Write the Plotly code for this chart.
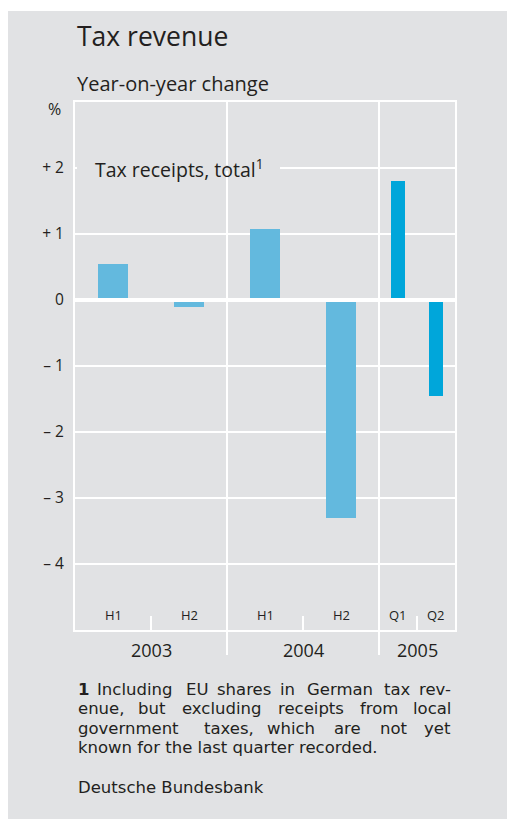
import plotly.graph_objects as go

# ---- data ----
periods = ["H1", "H2", "H1", "H2", "Q1", "Q2"]
period_quarters = [2, 2, 2, 2, 1, 1]
values = [0.55, -0.1, 1.08, -3.3, 1.8, -1.45]
years = ["2003", "2004", "2005"]
year_quarters = [4, 4, 2]
ytick_vals = [-4, -3, -2, -1, 0, 1, 2]
ytick_text = ["– 4", "– 3", "– 2", "– 1", "0", "+ 1", "+ 2"]

footnote_lines = [
    ["<b>1</b>", "Including", "EU", "shares", "in", "German", "tax", "rev-"],
    ["enue,", "but", "excluding", "receipts", "from", "local"],
    ["government", "taxes,", "which", "are", "not", "yet"],
    ["known for the last quarter recorded."],
]
source = "Deutsche Bundesbank"

# ---- derived positions ----
starts, acc = [], 0
for q in period_quarters:
    starts.append(acc)
    acc += q
centers = [s + q / 2 for s, q in zip(starts, period_quarters)]
widths = [0.4 * q if q == 2 else 0.36 * q for q in period_quarters]
colors = ["#63b9de" if q == 2 else "#00a6da" for q in period_quarters]
total_q = acc

ystarts, acc = [], 0
for q in year_quarters:
    ystarts.append(acc)
    acc += q
ycenters = [s + q / 2 for s, q in zip(ystarts, year_quarters)]

# page is offset by the 8px body margin
OFF = 8
PAGE_W, PAGE_H = 515, 819
W, H = PAGE_W - OFF, PAGE_H - OFF
L, R, T, B = 75, 455, 102, 630          # plot area in page pixels
BG = "#e1e2e4"
TXT = "#231f20"
FONT = "Open Sans"
NOTE_FONT = "DejaVu Sans"


def px(x):
    return (x - L) / (R - L)


def py(y):
    return (B - y) / (B - T)


fig = go.Figure()
fig.add_trace(go.Bar(x=centers, y=values, width=widths, marker=dict(color=colors, line=dict(width=0)),
                     hoverinfo="skip"))

shapes = []
# grey panel
shapes.append(dict(type="rect", xref="paper", yref="paper", x0=px(7), x1=px(520), y0=py(11), y1=py(825),
                   fillcolor=BG, line=dict(width=0), layer="below"))
# year separators
for s in ystarts[1:]:
    shapes.append(dict(type="line", xref="x", yref="paper", x0=s, x1=s, y0=1, y1=py(655),
                       line=dict(color="white", width=2), layer="below"))
# zero line
shapes.append(dict(type="line", xref="paper", yref="y", x0=0, x1=1, y0=0, y1=0,
                   line=dict(color="white", width=4), layer="above"))
# cover gridline behind the label
shapes.append(dict(type="rect", xref="paper", yref="y", x0=px(77), x1=px(280), y0=1.96, y1=2.04,
                   fillcolor=BG, line=dict(width=0), layer="above"))

ann = []
ann.append(dict(text="Tax revenue", x=px(75), y=py(36), xanchor="left", yanchor="middle",
                font=dict(size=26.5, color=TXT)))
ann.append(dict(text="Year-on-year change", x=px(75), y=py(84), xanchor="left", yanchor="middle",
                font=dict(size=20, color=TXT)))
ann.append(dict(text="%", x=px(54.5), y=py(109.5), xanchor="center", yanchor="middle",
                font=dict(size=16, color=TXT)))
ann.append(dict(text="Tax receipts, total<sup>1</sup>", x=px(93), y=2, yref="y", xanchor="left",
                yanchor="middle", font=dict(size=19.5, color=TXT)))
for c, p in zip(centers, periods):
    ann.append(dict(text=p, x=c, xref="x", y=py(615), xanchor="center", yanchor="middle",
                    font=dict(size=13, color=TXT)))
for c, yv in zip(ycenters, years):
    ann.append(dict(text=yv, x=c, xref="x", y=py(650), xanchor="center", yanchor="middle",
                    font=dict(size=18, color=TXT)))

# justified footnote (word positions)
word_pos = [
    [("left", 75.7), ("center", 134), ("center", 197.5), ("center", 244), ("center", 287.5),
     ("center", 340), ("center", 397), ("right", 453)],
    [("left", 75.7), ("center", 152), ("center", 221.5), ("center", 311), ("center", 379), ("right", 453)],
    [("left", 75.7), ("center", 229), ("center", 291), ("center", 347.5), ("center", 394), ("right", 453)],
    [("left", 75.7)],
]
line_y = [689, 708.5, 728, 747.5]
for words, poss, ly in zip(footnote_lines, word_pos, line_y):
    for w, (anc, xx) in zip(words, poss):
        ann.append(dict(text=w, x=px(xx), y=py(ly), xanchor=anc, yanchor="middle",
                        font=dict(size=16.5, color=TXT, family=NOTE_FONT)))
ann.append(dict(text=source, x=px(75.7), y=py(787), xanchor="left", yanchor="middle",
                font=dict(size=16.5, color=TXT, family=NOTE_FONT)))
for a in ann:
    a.setdefault("xref", "paper")
    a.setdefault("yref", "paper")
    a["showarrow"] = False

fig.update_layout(
    width=W, height=H,
    margin=dict(l=L - OFF, r=PAGE_W - R, t=T - OFF, b=PAGE_H - B, pad=0),
    paper_bgcolor="white", plot_bgcolor="rgba(0,0,0,0)",
    font=dict(family=FONT, color=TXT),
    showlegend=False,
    shapes=shapes, annotations=ann,
    xaxis=dict(range=[0, total_q], showgrid=False, zeroline=False, showticklabels=False,
               showline=True, linecolor="white", linewidth=2, mirror=True,
               tickvals=[0, 2, 6, 9, total_q], ticks="inside", ticklen=14, tickwidth=2, tickcolor="white"),
    yaxis=dict(range=[-5, 3], tickvals=ytick_vals, ticktext=ytick_text, showgrid=True, gridcolor="white",
               gridwidth=2, zeroline=False, showline=True, linecolor="white", linewidth=2, mirror=True,
               ticks="", ticklabelstandoff=6, tickfont=dict(size=15.5, color=TXT)),
    bargap=0,
)

fig.write_html("out.html")
